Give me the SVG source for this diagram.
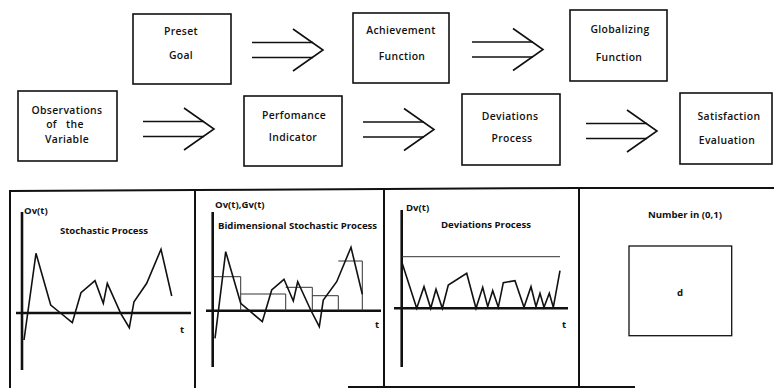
<svg xmlns="http://www.w3.org/2000/svg" width="774" height="388" viewBox="0 0 774 388">
  <style>
    .box { fill: #fff; stroke: #111; stroke-width: 1.6; }
    .lbl { font-family: "Open Sans", "Liberation Sans", sans-serif; font-size: 10.4px; font-weight: 600; fill: #111; text-anchor: middle; letter-spacing: 0.35px; }
    .ptxt { font-family: "Open Sans", "Liberation Sans", sans-serif; font-size: 9.6px; font-weight: 700; fill: #111; }
    .mid { text-anchor: middle; }
    .frame { stroke: #111; stroke-width: 2; fill: none; }
    .axis { stroke: #111; stroke-width: 2.6; fill: none; }
    .curve { stroke: #111; stroke-width: 1.6; fill: none; stroke-linejoin: miter; }
    .thin { stroke: #333; stroke-width: 1; fill: none; }
    .arrow { stroke: #111; stroke-width: 1.6; fill: none; }
  </style>
  <defs>
    <!-- double-shafted open arrow, drawn from its tail at (0,0) -->
    <g id="dblArrow" class="arrow">
      <line x1="0" y1="-7.5" x2="61" y2="-7.5"/>
      <line x1="0" y1="7.5" x2="61" y2="7.5"/>
      <polyline points="41,-21 71,0 41,21"/>
    </g>
  </defs>
  <rect width="774" height="388" fill="#fff"/>

  <!-- flow chart nodes -->
  <g id="preset-goal">
    <rect class="box" x="133" y="14" width="98" height="70"/>
    <text class="lbl" x="181" y="35">Preset</text>
    <text class="lbl" x="181" y="59">Goal</text>
  </g>
  <g id="achievement-function">
    <rect class="box" x="353" y="13" width="96" height="70"/>
    <text class="lbl" x="401" y="34">Achievement</text>
    <text class="lbl" x="402" y="60">Function</text>
  </g>
  <g id="globalizing-function">
    <rect class="box" x="570" y="10" width="97" height="71"/>
    <text class="lbl" x="620" y="33">Globalizing</text>
    <text class="lbl" x="619" y="61">Function</text>
  </g>
  <g id="observations">
    <rect class="box" x="18" y="91" width="99" height="70"/>
    <text class="lbl" x="67" y="114">Observations</text>
    <text class="lbl" x="65" y="128" xml:space="preserve">of   the</text>
    <text class="lbl" x="67" y="143">Variable</text>
  </g>
  <g id="performance-indicator">
    <rect class="box" x="244" y="96" width="98" height="70"/>
    <text class="lbl" x="294" y="119">Perfomance</text>
    <text class="lbl" x="293" y="141">Indicator</text>
  </g>
  <g id="deviations-process">
    <rect class="box" x="462" y="94" width="98" height="71"/>
    <text class="lbl" x="510" y="120">Deviations</text>
    <text class="lbl" x="512" y="142">Process</text>
  </g>
  <g id="satisfaction-evaluation">
    <rect class="box" x="680" y="93" width="92" height="71"/>
    <text class="lbl" x="729" y="120">Satisfaction</text>
    <text class="lbl" x="727" y="144">Evaluation</text>
  </g>

  <!-- connectors -->
  <g id="connectors">
    <use href="#dblArrow" x="252" y="50"/>
    <use href="#dblArrow" x="472" y="49.5"/>
    <use href="#dblArrow" x="143" y="129"/>
    <use href="#dblArrow" x="363" y="129.5"/>
    <use href="#dblArrow" x="586" y="131"/>
  </g>

  <!-- lower panels -->
  <g id="panel-frames">
    <polyline class="frame" points="10,388 10,191 195,190 384,189 579,188 774,188"/>
    <line class="frame" x1="195" y1="190" x2="195" y2="388"/>
    <line class="frame" x1="384" y1="189" x2="384" y2="388"/>
    <line class="frame" x1="579" y1="188" x2="579" y2="388"/>
    <line class="frame" x1="348" y1="387" x2="635" y2="387" stroke-width="1.4"/>
  </g>

  <g id="panel-stochastic">
    <line class="axis" x1="22" y1="212" x2="22" y2="370"/>
    <line class="axis" x1="16" y1="313" x2="191" y2="313"/>
    <text class="ptxt" x="24" y="214">Ov(t)</text>
    <text class="ptxt mid" x="104" y="234">Stochastic Process</text>
    <text class="ptxt" x="180" y="333">t</text>
    <polyline class="curve" points="24,340 36,253.3 50.7,305 61.7,314 72.3,322.7 81,292.7 95,280.7 103.3,303.3 107.3,283.3 120.7,313.3 129.3,327.7 134,301.7 146.7,283.3 161,249.3 171.7,296"/>
  </g>

  <g id="panel-bidimensional">
    <line class="axis" x1="212.7" y1="212" x2="212.7" y2="367"/>
    <line class="axis" x1="206" y1="310.7" x2="381" y2="310.7"/>
    <text class="ptxt" x="215" y="208">Ov(t),Gv(t)</text>
    <text class="ptxt" x="218" y="229">Bidimensional Stochastic Process</text>
    <text class="ptxt" x="375" y="328">t</text>
    <path class="thin" d="M213.3,276.7 H240.7 V310.7 M240.7,294 H285.7 V310.7 M285.7,287.3 H312.3 V310.7 M312.3,295.7 H338.3 V310.7 M338.3,261 H362.3 V310.7"/>
    <polyline class="curve" points="215,338.3 225.7,251.7 240.7,303.3 251.7,312.7 262.3,321.7 271.7,290 284,279.3 293.3,301 297.7,281.7 310.7,310 319.3,326.7 323.3,300 336.7,281.7 351,247.3 362.3,294.3"/>
  </g>

  <g id="panel-deviations">
    <line class="axis" x1="401.7" y1="210" x2="401.7" y2="367"/>
    <line class="axis" x1="394" y1="308.3" x2="568" y2="308.3"/>
    <line class="thin" x1="401.7" y1="256.7" x2="560" y2="256.7"/>
    <text class="ptxt" x="406" y="211">Dv(t)</text>
    <text class="ptxt mid" x="486" y="228">Deviations Process</text>
    <text class="ptxt" x="562" y="328">t</text>
    <polyline class="curve" points="401.7,261.7 416.7,308.3 424,286.7 430.7,308.3 436,289.3 442.3,308.3 448.3,285 466.7,273.3 476,308.3 482.7,287.3 487.7,306.7 492.7,290.7 498.3,307.3 503.3,282.7 515,280.7 524,307.3 531,286.7 536,306.7 540,293.3 544,307.3 549.3,293.3 553.3,307.3 560,270.7"/>
  </g>

  <g id="panel-number">
    <text class="ptxt mid" x="685" y="218">Number in (0,1)</text>
    <rect x="629" y="246" width="102.7" height="89.7" fill="none" stroke="#111" stroke-width="1.3"/>
    <text class="ptxt" x="677" y="296">d</text>
  </g>
</svg>
